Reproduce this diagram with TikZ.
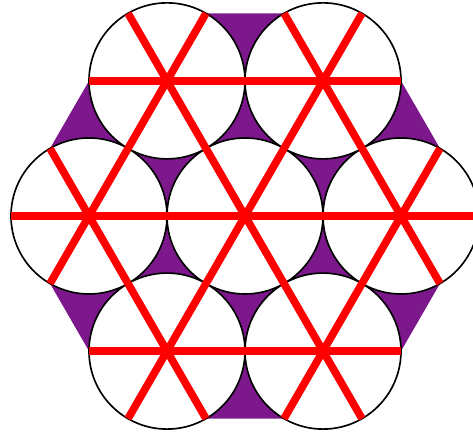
\documentclass[tikz,border=0pt]{standalone}
\usepackage{tikz}
\definecolor{hexpurple}{RGB}{125,24,140}

\begin{document}
\begin{tikzpicture}[ball/.style={circle, draw=black, fill=white, line width=0.6pt, minimum size=2cm, inner sep=0pt, outer sep=0pt},
    redline/.style={draw=red, line width=2.8pt}]
        \clip (-3.141,-2.769) rectangle (2.923,2.769);
        % 六边形
        \fill[hexpurple] (0:3) -- (60:3) -- (120:3) -- (180:3) -- (240:3) -- (300:3) -- cycle;

        % 圆
        \node[ball] (o) at (0,0) {};
        \node[ball] (r) at (0:2) {};
        \node[ball] (tr) at (60:2) {};
        \node[ball] (tl) at (120:2) {};
        \node[ball] (l) at (180:2) {};
        \node[ball] (bl) at (240:2) {};
        \node[ball] (br) at (300:2) {};

        % 直线
        \draw[redline] (tl.180) -- (tr.0);
        \draw[redline] (l.180) -- (r.0);
        \draw[redline] (bl.180) -- (br.0);
        \draw[redline] (bl.240) -- (tr.60);
        \draw[redline] (l.240) -- (tl.60);
        \draw[redline] (br.240) -- (r.60);
        \draw[redline] (br.300) -- (tl.120);
        \draw[redline] (bl.300) -- (l.120);
        \draw[redline] (r.300) -- (tr.120);
    \end{tikzpicture}
\end{document}
